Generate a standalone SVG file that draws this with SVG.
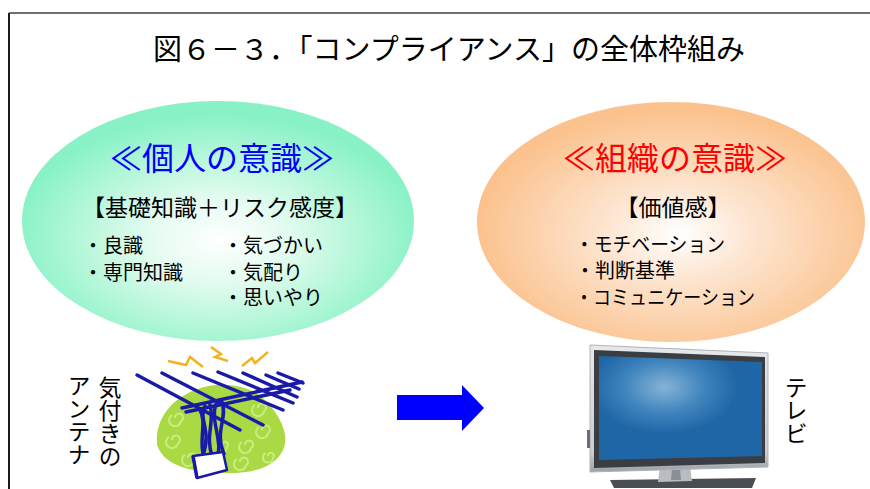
<svg xmlns="http://www.w3.org/2000/svg" width="870" height="489" viewBox="0 0 870 489">
  <style>
    .jp { font-family: "Noto Sans CJK JP", "Noto Sans CJK SC", sans-serif; }
    .title { font-size: 29px; fill: #000; }
    .head { font-size: 32px; text-anchor: middle; }
    .sub { font-size: 23px; fill: #000; text-anchor: middle; }
    .item { font-size: 20px; fill: #000; }
    .vert { font-size: 23px; fill: #000; writing-mode: vertical-rl; text-orientation: upright; }
    .ant { fill: none; stroke: #1a1aa8; stroke-width: 3.5; stroke-linecap: round; stroke-linejoin: round; }
    .bolt { fill: none; stroke: #f2b21e; stroke-width: 2.5; stroke-linejoin: miter; }
    .swirl { fill: none; stroke: #c8ec80; stroke-width: 2; }
  </style>
  <defs>
    <radialGradient id="mint" cx="0.5" cy="0.58" r="0.52">
      <stop offset="0" stop-color="#ffffff"/>
      <stop offset="0.35" stop-color="#e2fbef"/>
      <stop offset="0.75" stop-color="#acf6d5"/>
      <stop offset="1" stop-color="#88f2c6"/>
    </radialGradient>
    <radialGradient id="peach" cx="0.52" cy="0.55" r="0.52">
      <stop offset="0" stop-color="#ffffff"/>
      <stop offset="0.35" stop-color="#fde6d2"/>
      <stop offset="0.75" stop-color="#fcd0a8"/>
      <stop offset="1" stop-color="#fbc28e"/>
    </radialGradient>
    <radialGradient id="screen" cx="0.4" cy="0.3" r="0.45">
      <stop offset="0" stop-color="#86b3d6"/>
      <stop offset="0.55" stop-color="#3f84bd"/>
      <stop offset="1" stop-color="#1f66a6"/>
    </radialGradient>
    <linearGradient id="silver" x1="0" y1="0" x2="0" y2="1">
      <stop offset="0" stop-color="#e6e8ea"/>
      <stop offset="0.85" stop-color="#c9ccd0"/>
      <stop offset="1" stop-color="#9aa0a6"/>
    </linearGradient>
  </defs>

  <rect width="870" height="489" fill="#ffffff"/>

  <!-- frame -->
  <g id="frame">
    <path d="M9,13 H870" stroke="#707070" stroke-width="2" fill="none"/>
    <path d="M9,13 V489" stroke="#1a1a1a" stroke-width="2" fill="none"/>
  </g>

  <g id="title">
    <text class="jp title" x="449" y="60" text-anchor="middle">図６－３．「コンプライアンス」の全体枠組み</text>
  </g>

  <!-- individual awareness -->
  <g id="node-personal">
    <ellipse cx="218" cy="221" rx="196" ry="120" fill="url(#mint)"/>
    <text class="jp head" x="222" y="170" fill="#0000ff">≪個人の意識≫</text>
    <text class="jp sub" x="220" y="216">【基礎知識＋リスク感度】</text>
    <text class="jp item" x="83" y="253">・良識</text>
    <text class="jp item" x="83" y="280">・専門知識</text>
    <text class="jp item" x="223" y="253">・気づかい</text>
    <text class="jp item" x="223" y="280">・気配り</text>
    <text class="jp item" x="223" y="305">・思いやり</text>
  </g>

  <!-- organisational awareness -->
  <g id="node-organization">
    <ellipse cx="671" cy="222" rx="194" ry="120" fill="url(#peach)"/>
    <text class="jp head" x="675" y="170" fill="#ff0000">≪組織の意識≫</text>
    <text class="jp sub" x="673" y="216">【価値感】</text>
    <text class="jp item" x="575" y="252" textLength="150" lengthAdjust="spacingAndGlyphs">・モチベーション</text>
    <text class="jp item" x="575" y="278">・判断基準</text>
    <text class="jp item" x="575" y="305" textLength="180" lengthAdjust="spacingAndGlyphs">・コミュニケーション</text>
  </g>

  <!-- antenna clip art -->
  <g id="antenna">
    <path d="M157,445 C155,420 170,400 195,390 C220,380 250,385 265,400 C280,415 290,435 283,450 C275,468 250,474 225,473 C195,472 165,468 157,445 Z" fill="#a9d943"/>
    <path class="swirl" d="M172,440 a4,4 0 1 1 6,3 a6,6 0 1 1 -9,-6"/>
    <path class="swirl" d="M188,458 a4,4 0 1 1 6,3 a6,6 0 1 1 -9,-6"/>
    <path class="swirl" d="M245,445 a4,4 0 1 1 6,3 a6,6 0 1 1 -9,-6"/>
    <path class="swirl" d="M262,430 a4,4 0 1 1 6,3 a6,6 0 1 1 -9,-6"/>
    <path class="swirl" d="M240,462 a4,4 0 1 1 6,3 a6,6 0 1 1 -9,-6"/>
    <path class="swirl" d="M175,418 a4,4 0 1 1 6,3 a6,6 0 1 1 -9,-6"/>
    <path class="swirl" d="M258,408 a4,4 0 1 1 6,3 a6,6 0 1 1 -9,-6"/>
    <path class="swirl" d="M222,445 a3,3 0 1 1 5,2 a5,5 0 1 1 -7,-5"/>
    <path class="swirl" d="M268,456 a3,3 0 1 1 5,2 a5,5 0 1 1 -7,-5"/>

    <polyline class="bolt" points="168,361 186,365 190,357 203,367"/>
    <polyline class="bolt" points="211,347 221,354 215,357 228,361"/>
    <polyline class="bolt" points="242,366 252,358 255,363 268,352"/>

    <path class="ant" d="M137,375 L240,430"/>
    <path class="ant" d="M162,373 L263,425"/>
    <path class="ant" d="M193,373 L283,410"/>
    <path class="ant" d="M218,372 L293,403"/>
    <path class="ant" d="M243,373 L297,397"/>
    <path class="ant" d="M266,375 L299,389"/>
    <path class="ant" d="M278,373 L303,383"/>
    <path class="ant" stroke-width="4.5" d="M182,408 L302,382"/>
    <path class="ant" stroke-width="2" d="M186,412 L290,390"/>

    <path class="ant" stroke-width="2" d="M205,406 C198,420 212,430 203,455"/>
    <path class="ant" stroke-width="2" d="M210,405 C215,422 205,435 212,456"/>
    <path class="ant" stroke-width="2" d="M216,404 C210,420 222,438 218,455"/>
    <path class="ant" stroke-width="2" d="M222,402 C228,418 214,432 224,454"/>
    <path class="ant" stroke-width="2" d="M200,410 C208,425 196,440 207,470"/>

    <path d="M193,456 L223,452 L227,470 L197,478 Z" fill="#ffffff" stroke="#1a1aa8" stroke-width="2.5" stroke-linejoin="round"/>
    <path d="M193,456 L197,478" stroke="#1a1aa8" stroke-width="3.5" fill="none"/>
  </g>

  <g id="antenna-label">
    <text class="jp vert" x="110" y="376">気付きの</text>
    <text class="jp vert" x="79" y="374">アンテナ</text>
  </g>

  <!-- connector -->
  <g id="connectors">
    <polygon points="397,395 462,395 462,385 484,408 462,431 462,420 397,420" fill="#0000ff"/>
  </g>

  <!-- television clip art -->
  <g id="tv">
    <path d="M610,480 L756,478 L752,488 L614,488 Z" fill="#4a4d52"/>
    <path d="M660,466 L690,466 L692,481 L658,482 Z" fill="#b9bdc2"/>
    <path d="M672,468 L680,468 L681,480 L671,480 Z" fill="#8a8f95"/>
    <path d="M590,345 L768,353 L768,467 L590,472 Z" fill="url(#silver)" stroke="#b0b4b8" stroke-width="1"/>
    <path d="M594,350 L765,357 L765,463 L594,468 Z" fill="#3a3d42"/>
    <path d="M599,356 L762,362 L762,456 L599,460 Z" fill="url(#screen)"/>
    <rect x="587" y="430" width="3" height="18" fill="#6a6e74"/>
  </g>

  <g id="tv-label">
    <text class="jp vert" x="796" y="376">テレビ</text>
  </g>
</svg>
